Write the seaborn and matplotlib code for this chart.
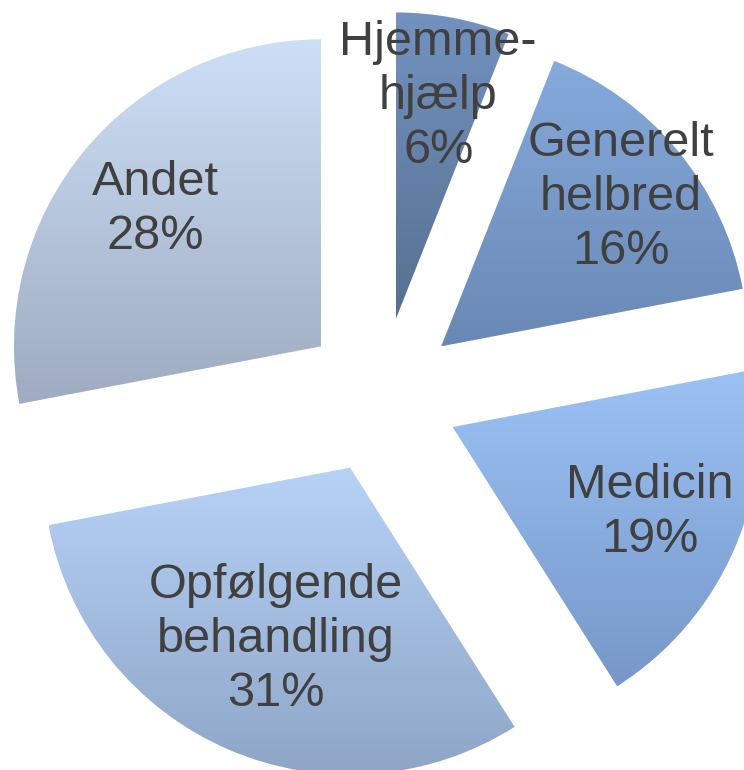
import numpy as np
import matplotlib.pyplot as plt
import seaborn as sns

# data (clockwise from 12 o'clock)
labels = ['Hjemme-\nhjælp', 'Generelt\nhelbred', 'Medicin', 'Opfølgende\nbehandling', 'Andet']
shares = [6, 16, 19, 31, 28]

# gradient colours per slice (top -> bottom)
top_colors = ['#7392c0', '#85aadc', '#9cc2f5', '#b6d2f7', '#cddff7']
bottom_colors = ['#56708f', '#6a88b5', '#7697c8', '#8ea5c6', '#9eabc0']
label_dist = [0.74, 0.76, 0.70, 0.61, 0.70]

sns.set_style('white')
plt.rcParams['font.family'] = ['Liberation Sans', 'DejaVu Sans']

fig = plt.figure(figsize=(7.44, 7.70), dpi=100)
ax = fig.add_axes([0, 0, 1, 1])

wedges, _ = ax.pie(shares, startangle=90, counterclock=False,
                   explode=[0.254] * len(shares), radius=1,
                   colors=top_colors, wedgeprops=dict(linewidth=0, edgecolor='none'))

grad = np.linspace(0, 1, 256).reshape(-1, 1)
for w, top, bot, lab, s, d in zip(wedges, top_colors, bottom_colors, labels, shares, label_dist):
    ext = w.get_path().get_extents()
    cmap = sns.blend_palette([bot, top], as_cmap=True)
    im = ax.imshow(grad, cmap=cmap, origin='lower', aspect='auto',
                   extent=[ext.x0, ext.x1, ext.y0, ext.y1], zorder=w.get_zorder())
    im.set_clip_path(w)
    w.set_facecolor('none')

    th = np.deg2rad((w.theta1 + w.theta2) / 2)
    cx, cy = w.center
    ax.text(cx + d * w.r * np.cos(th), cy + d * w.r * np.sin(th),
            f'{lab}\n{s}%', ha='center', va='center', fontsize=35,
            color='#404040', linespacing=1.25, zorder=5)

ax.set_xlim(-1.241, 1.182)
ax.set_ylim(-1.218, 1.290)
ax.set_aspect('equal')
ax.axis('off')

plt.savefig('out.png', dpi=100)
